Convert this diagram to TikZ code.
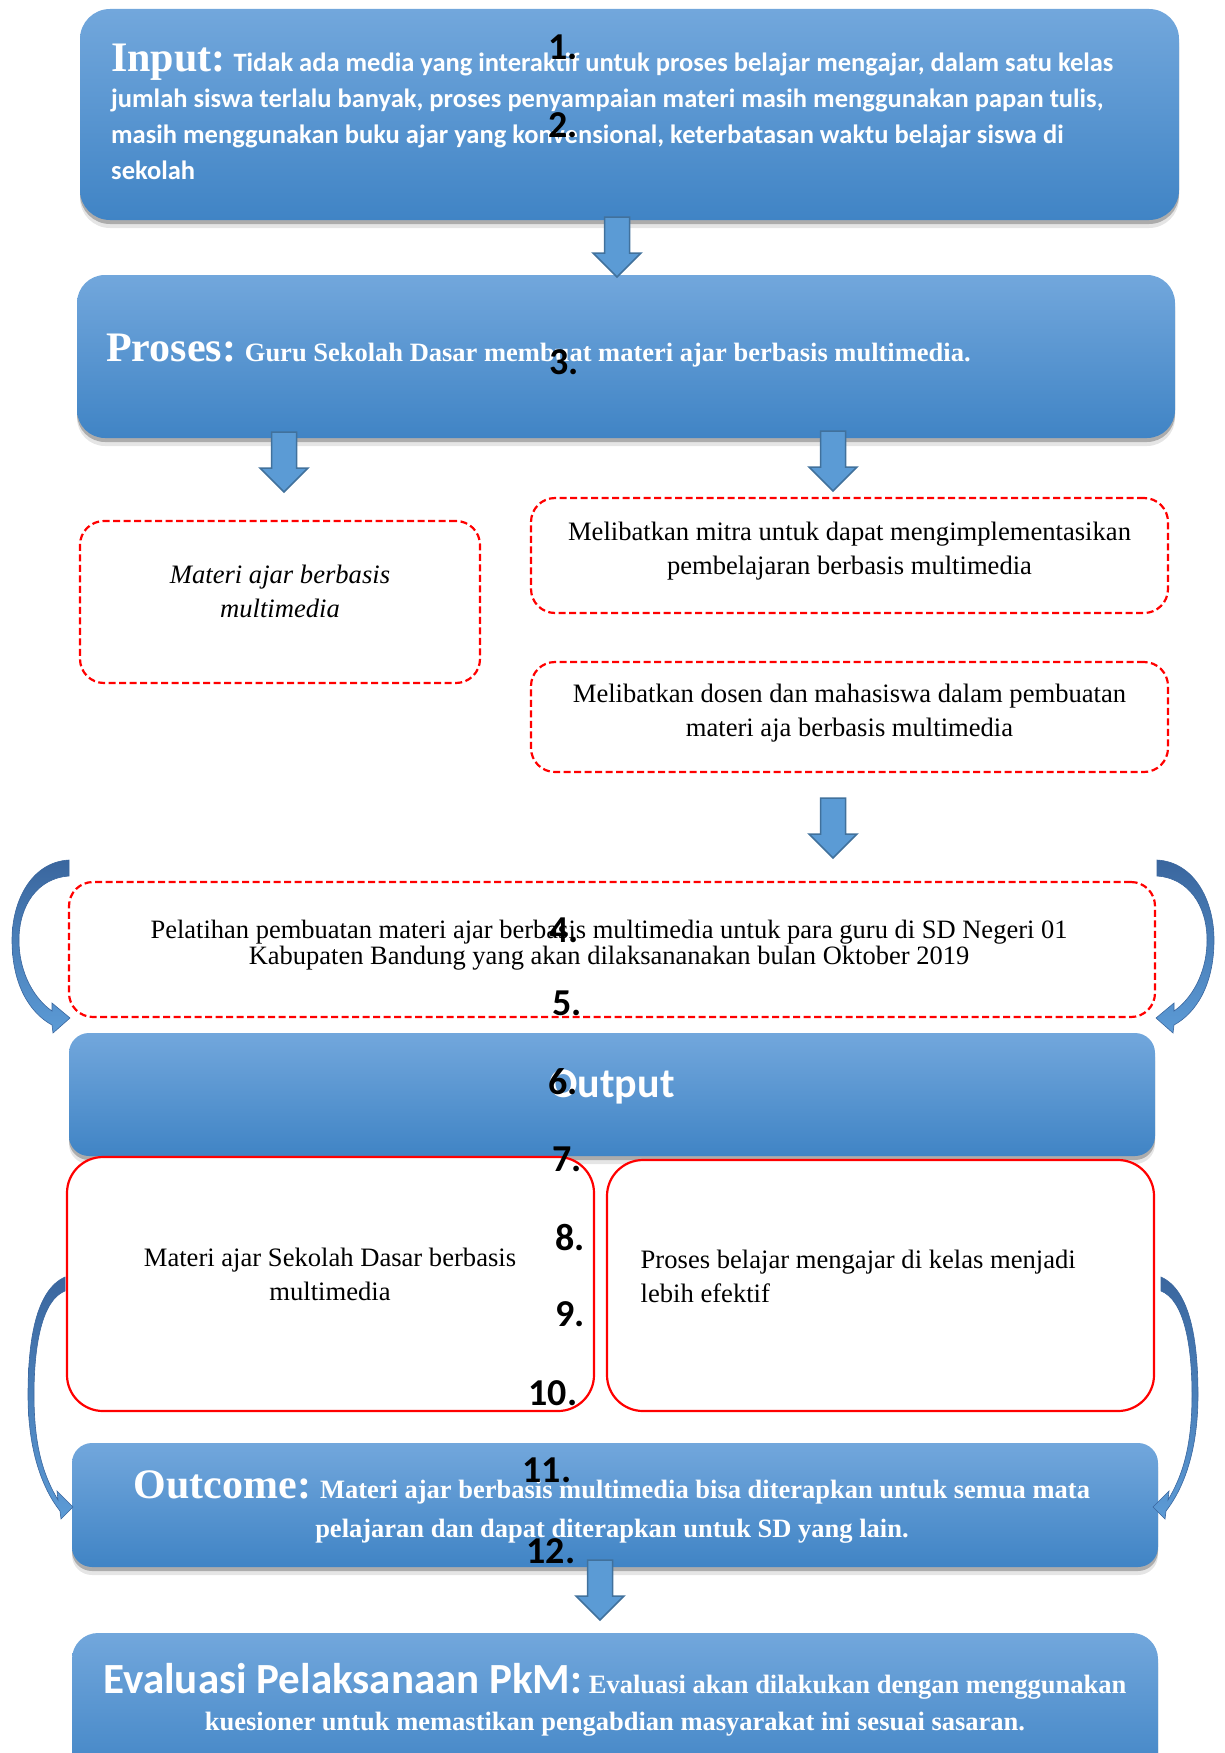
\documentclass[tikz,border=0pt]{standalone}
\usepackage{fontspec}
\setmainfont{Liberation Serif}
\newfontfamily\calfont{Carlito}
\usetikzlibrary{shadows}
\definecolor{boxtop}{RGB}{114,167,220}
\definecolor{boxbot}{RGB}{64,132,197}
\definecolor{arrfill}{RGB}{91,155,213}
\definecolor{arrline}{RGB}{65,113,156}
\definecolor{curvdark}{RGB}{58,102,158}
\definecolor{curvlight}{RGB}{92,155,214}
\definecolor{redline}{RGB}{255,0,0}
\tikzset{
  bluebox/.style={rectangle, rounded corners=#1, top color=boxtop, bottom color=boxbot, draw=none, inner sep=0pt,
    drop shadow={shadow xshift=0pt, shadow yshift=-4pt, opacity=.25, fill=black},
    drop shadow={shadow xshift=0pt, shadow yshift=-8pt, opacity=.10, fill=black}},
  dashbox/.style={rectangle, rounded corners=24pt, draw=redline, line width=2.2pt, dash pattern=on 7pt off 3.5pt, inner sep=0pt},
  redbox/.style={rectangle, rounded corners=36pt, draw=redline, line width=2.2pt, fill=white, inner sep=0pt},
  bodytxt/.style={inner sep=0pt, font=\fontsize{26.6}{33.5}\selectfont},
  numtxt/.style={inner sep=0pt, text=black, font=\calfont\bfseries\fontsize{38}{38}\selectfont},
  curvarrow/.style={top color=curvdark, bottom color=curvlight, draw=curvdark, line width=0.6pt},
  darrow/.pic={\path[fill=arrfill, draw=arrline, line width=1.5pt, line join=miter]
     (-12.5,0) -- (12.5,0) -- (12.5,36) -- (24,36) -- (0,60) -- (-24,36) -- (-12.5,36) -- cycle;}
}
\begin{document}
\begin{tikzpicture}[x=1pt, y=-1pt]
\useasboundingbox (0,0) rectangle (1225,1753);
\clip (0,0) rectangle (1225,1753);

% blue boxes
\node[bluebox=30pt, minimum width=1099pt, minimum height=211pt] (input) at (629.5,114.5) {};
\node[bluebox=28pt, minimum width=1098pt, minimum height=163pt] (proses) at (626,356.5) {};
\node[bluebox=20pt, minimum width=1086pt, minimum height=123pt] (output) at (612,1094.5) {};
\node[bluebox=20pt, minimum width=1086pt, minimum height=124pt] (outcome) at (615,1505) {};
\node[bluebox=26pt, minimum width=1086pt, minimum height=150pt] (eval) at (615,1708) {};

% dashed boxes
\node[dashbox, minimum width=400pt, minimum height=162pt] (materi) at (280,602) {};
\node[dashbox, minimum width=637pt, minimum height=115pt] (mitra) at (849.5,555.5) {};
\node[dashbox, minimum width=637pt, minimum height=110pt] (dosen) at (849.5,717) {};
\node[dashbox, minimum width=1086pt, minimum height=135pt] (pelatihan) at (612,949.5) {};

% red solid boxes
\node[redbox, minimum width=527pt, minimum height=254pt] (outL) at (330.5,1284) {};
\node[redbox, minimum width=547pt, minimum height=251pt] (outR) at (880.5,1285.5) {};

% texts (base anchor = baseline of the last line)
\node[anchor=base west, align=left, inner sep=0pt, text=white,
      font=\calfont\bfseries\fontsize{26.5}{36}\selectfont] (tinput) at (111,179)
  {{\rmfamily\bfseries\fontsize{42}{42}\selectfont Input:} Tidak ada media yang interaktif untuk proses belajar mengajar, dalam satu kelas\\
   jumlah siswa terlalu banyak, proses penyampaian materi masih menggunakan papan tulis,\\
   masih menggunakan buku ajar yang konvensional, keterbatasan waktu belajar siswa di\\
   sekolah};
\node[anchor=base west, inner sep=0pt, text=white, font=\bfseries\fontsize{26.5}{30}\selectfont] (tproses) at (106,361)
  {{\fontsize{42}{42}\selectfont Proses:} Guru Sekolah Dasar membuat materi ajar berbasis multimedia.};
\node[bodytxt, anchor=base, align=center, font=\itshape\fontsize{26.6}{33.5}\selectfont] (tmateri) at (280,617)
  {Materi ajar berbasis\\multimedia};
\node[bodytxt, anchor=base, align=center] (tmitra) at (849.5,574)
  {Melibatkan mitra untuk dapat mengimplementasikan\\pembelajaran berbasis multimedia};
\node[bodytxt, anchor=base, align=center] (tdosen) at (849.5,736)
  {Melibatkan dosen dan mahasiswa dalam pembuatan\\materi aja berbasis multimedia};
\node[bodytxt, anchor=base, align=center, font=\fontsize{26.5}{22.5}\selectfont] (tpelatihan) at (609,964)
  {Pelatihan pembuatan materi ajar berbasis multimedia untuk para guru di SD Negeri 01\\
   Kabupaten Bandung yang akan dilaksananakan bulan Oktober 2019};
\node[anchor=base, inner sep=0pt, text=white, font=\calfont\bfseries\fontsize{42}{42}\selectfont] (toutput) at (612,1097.5) {Output};
\node[bodytxt, anchor=base, align=center] (toutL) at (330,1300)
  {Materi ajar Sekolah Dasar berbasis\\multimedia};
\node[bodytxt, anchor=base west, align=left] (toutR) at (640.5,1302)
  {Proses belajar mengajar di kelas menjadi\\lebih efektif};
\node[anchor=base, align=center, inner sep=0pt, text=white, font=\bfseries\fontsize{26.5}{39}\selectfont] (toutcome) at (612,1537)
  {{\fontsize{42}{42}\selectfont Outcome:} Materi ajar berbasis multimedia bisa diterapkan untuk semua mata\\
   pelajaran dan dapat diterapkan untuk SD yang lain.};
\node[anchor=base, align=center, inner sep=0pt, text=white, font=\bfseries\fontsize{26.5}{37}\selectfont] (teval) at (615,1730)
  {{\calfont\fontsize{43}{43}\selectfont Evaluasi Pelaksanaan PkM:} Evaluasi akan dilakukan dengan menggunakan\\
   kuesioner untuk memastikan pengabdian masyarakat ini sesuai sasaran.};

% block arrows
\pic (a1) at (617,217) {darrow};
\pic (a2) at (284,432) {darrow};
\pic (a3) at (833,431) {darrow};
\pic (a4) at (833,798) {darrow};
\pic (a5) at (600,1560) {darrow};

% curved arrows
\path[curvarrow] (69,860) .. controls (32,862) and (12,900) .. (12,940)
  .. controls (12,985) and (30,1013) .. (52,1025) -- (53,1033) -- (70,1018) -- (52,1003) -- (52,1011)
  .. controls (36,1000) and (19,975) .. (19,940) .. controls (19,905) and (38,878) .. (69,876) -- cycle;
\path[curvarrow] (1157,860) .. controls (1194,862) and (1214,900) .. (1214,940)
  .. controls (1214,985) and (1196,1013) .. (1174,1025) -- (1173,1033) -- (1156,1018) -- (1174,1003) -- (1174,1011)
  .. controls (1190,1000) and (1207,975) .. (1207,940) .. controls (1207,905) and (1188,878) .. (1157,876) -- cycle;
\path[curvarrow] (65,1277) .. controls (36,1290) and (28,1340) .. (28,1395)
  .. controls (28,1450) and (42,1488) .. (60,1511) -- (61,1519) -- (73,1507) -- (57,1491) -- (58,1500)
  .. controls (45,1478) and (34,1450) .. (34,1395) .. controls (34,1345) and (42,1300) .. (65,1291) -- cycle;
\path[curvarrow] (1161,1277) .. controls (1190,1290) and (1198,1340) .. (1198,1395)
  .. controls (1198,1450) and (1184,1488) .. (1166,1511) -- (1165,1519) -- (1153,1507) -- (1169,1491) -- (1168,1500)
  .. controls (1181,1478) and (1192,1450) .. (1192,1395) .. controls (1192,1345) and (1184,1300) .. (1161,1291) -- cycle;

% list numbers
\node[numtxt] (n1) at (563,47) {1.};
\node[numtxt] (n2) at (563,125) {2.};
\node[numtxt] (n3) at (564,362) {3.};
\node[numtxt] (n4) at (564,930) {4.};
\node[numtxt] (n5) at (567,1003) {5.};
\node[numtxt] (n6) at (563,1082) {6.};
\node[numtxt] (n7) at (567,1159) {7.};
\node[numtxt] (n8) at (570,1238) {8.};
\node[numtxt] (n9) at (570,1314) {9.};
\node[numtxt] (n10) at (553,1393) {10.};
\node[numtxt] (n11) at (547,1470) {11.};
\node[numtxt] (n12) at (551,1551) {12.};
\end{tikzpicture}
\end{document}
